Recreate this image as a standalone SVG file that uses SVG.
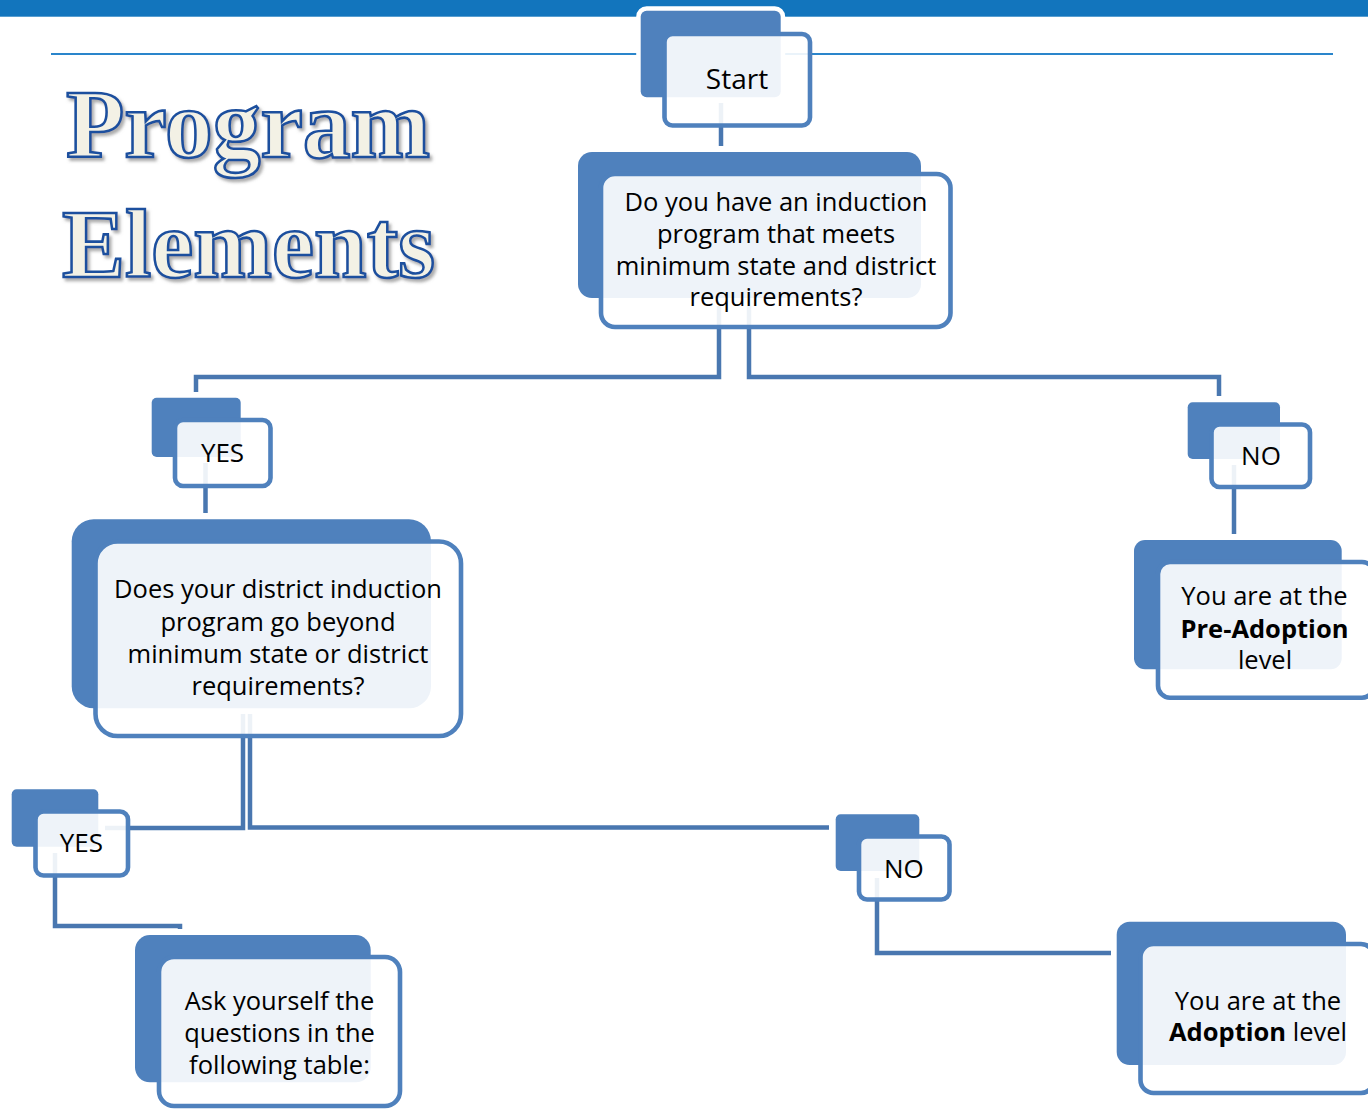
<svg xmlns="http://www.w3.org/2000/svg" width="1368" height="1110" viewBox="0 0 1368 1110">
  <defs>
    <filter id="titleShadow" x="-10%" y="-20%" width="130%" height="150%">
      <feDropShadow dx="2.5" dy="3" stdDeviation="1.8" flood-color="#6b6b6b" flood-opacity="0.55"/>
    </filter>
  </defs>
  <style>
    .bar { fill: #1275bd; }
    .rule { stroke: #2a85cb; stroke-width: 1.8; fill: none; }
    .title { font-family: "Liberation Serif", "DejaVu Serif", serif; font-weight: bold; font-size: 97px; fill: #f3f1e5; stroke: #1d4f9e; stroke-width: 2.6; filter: url(#titleShadow); }
    .back { fill: #4f81bd; stroke: #ffffff; stroke-width: 9; paint-order: stroke fill; }
    .front { fill: #ffffff; fill-opacity: 0.9; stroke: #4f81bd; stroke-width: 4.6; }
    .conn { fill: none; stroke: #4977b0; stroke-width: 4.5; stroke-linejoin: miter; }
    .lbl { font-family: "Open Sans", "Noto Sans", "DejaVu Sans", sans-serif; font-size: 25.5px; fill: #000000; text-anchor: middle; }
    .big { font-size: 28px; }
    .tag { font-size: 26px; }
    .b { font-weight: bold; }
  </style>

  <!-- page header -->
  <rect class="bar" x="0" y="0" width="1368" height="16.7"/>
  <line class="rule" x1="51" y1="54" x2="1333" y2="54"/>

  <!-- heading -->
  <g id="heading">
    <text class="title" x="66" y="157" textLength="364" lengthAdjust="spacingAndGlyphs">Program</text>
    <text class="title" x="62" y="277" textLength="373" lengthAdjust="spacingAndGlyphs">Elements</text>
  </g>

  <!-- connectors -->
  <g id="connectors">
    <path class="conn" d="M721,103 V146"/>
    <path class="conn" d="M719,306 V377 H196 V392"/>
    <path class="conn" d="M749,306 V377 H1219 V396"/>
    <path class="conn" d="M205.5,463 V513"/>
    <path class="conn" d="M1234,465 V534"/>
    <path class="conn" d="M243,714 V828 H105"/>
    <path class="conn" d="M250,714 V827.5 H829"/>
    <path class="conn" d="M55,853 V926 H180 V929"/>
    <path class="conn" d="M877,878 V953 H1111"/>
  </g>

  <!-- Start -->
  <g id="node-start">
    <rect class="back" x="640.7" y="10.7" width="140" height="86.6" rx="6"/>
    <rect class="front" x="664.5" y="34" width="145.5" height="91.5" rx="8"/>
    <text class="lbl big" x="737" y="89.3">Start</text>
  </g>

  <!-- first question -->
  <g id="node-q1">
    <rect class="back" x="578" y="152" width="343" height="146" rx="14"/>
    <rect class="front" x="601" y="174" width="349.5" height="153" rx="14"/>
    <text class="lbl" x="776" y="211">Do you have an induction</text>
    <text class="lbl" x="776" y="243">program that meets</text>
    <text class="lbl" x="776" y="275">minimum state and district</text>
    <text class="lbl" x="776" y="306">requirements?</text>
  </g>

  <!-- YES under first question -->
  <g id="node-yes1">
    <rect class="back" x="151.7" y="397.7" width="89" height="59.3" rx="5"/>
    <rect class="front" x="175" y="420" width="95.5" height="66" rx="8"/>
    <text class="lbl tag" x="222.5" y="461.7">YES</text>
  </g>

  <!-- NO under first question -->
  <g id="node-no1">
    <rect class="back" x="1187.7" y="402.3" width="92.3" height="56.7" rx="5"/>
    <rect class="front" x="1211.5" y="424.5" width="98.5" height="62.5" rx="8"/>
    <text class="lbl tag" x="1261" y="465">NO</text>
  </g>

  <!-- second question -->
  <g id="node-q2">
    <rect class="back" x="71.7" y="519.3" width="359.3" height="189" rx="22"/>
    <rect class="front" x="95.5" y="541.5" width="365.5" height="194.5" rx="22"/>
    <text class="lbl" x="278" y="598.3">Does your district induction</text>
    <text class="lbl" x="278" y="630.7">program go beyond</text>
    <text class="lbl" x="278" y="663.3">minimum state or district</text>
    <text class="lbl" x="278" y="695">requirements?</text>
  </g>

  <!-- Pre-Adoption result -->
  <g id="node-preadoption">
    <rect class="back" x="1134" y="540" width="207.7" height="129.3" rx="11"/>
    <rect class="front" x="1158" y="562" width="216" height="135.7" rx="12"/>
    <text class="lbl" x="1264.5" y="605">You are at the</text>
    <text class="lbl b" x="1264.5" y="638.3">Pre-Adoption</text>
    <text class="lbl" x="1265" y="669.3">level</text>
  </g>

  <!-- YES under second question -->
  <g id="node-yes2">
    <rect class="back" x="11.7" y="789.3" width="86.6" height="57.4" rx="5"/>
    <rect class="front" x="35.5" y="811.5" width="92.5" height="64" rx="8"/>
    <text class="lbl tag" x="81.3" y="851.7">YES</text>
  </g>

  <!-- NO under second question -->
  <g id="node-no2">
    <rect class="back" x="835.7" y="814.3" width="83.6" height="56.7" rx="5"/>
    <rect class="front" x="859" y="836.5" width="90.5" height="63" rx="8"/>
    <text class="lbl tag" x="903.8" y="878.3">NO</text>
  </g>

  <!-- follow-up table prompt -->
  <g id="node-ask">
    <rect class="back" x="135" y="935" width="235.7" height="147.3" rx="15"/>
    <rect class="front" x="159" y="957" width="241" height="149" rx="15"/>
    <text class="lbl" x="279.5" y="1010">Ask yourself the</text>
    <text class="lbl" x="279.5" y="1041.7">questions in the</text>
    <text class="lbl" x="279.5" y="1074.3">following table:</text>
  </g>

  <!-- Adoption result -->
  <g id="node-adoption">
    <rect class="back" x="1116.7" y="921.7" width="229.3" height="143.3" rx="13"/>
    <rect class="front" x="1140.5" y="944" width="233.5" height="149" rx="13"/>
    <text class="lbl" x="1258" y="1010">You are at the</text>
    <text class="lbl" x="1258" y="1041"><tspan class="b">Adoption</tspan> level</text>
  </g>
</svg>
